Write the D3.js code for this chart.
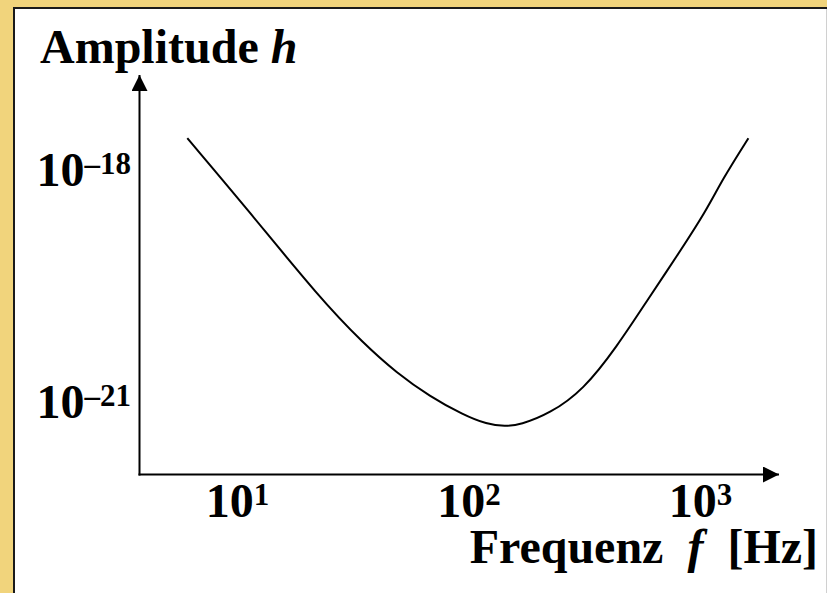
<!DOCTYPE html>
<html>
<head>
<meta charset="utf-8">
<script src="https://cdn.jsdelivr.net/npm/d3@7"></script>
<style>
  body { margin: 0; background: #f1d47c; }
  svg { display: block; }
  text { font-family: "Liberation Serif", "Times New Roman", serif; font-weight: bold; fill: #000; white-space: pre; }
</style>
</head>
<body>
<div class="content"></div>
<script>
// VARIABLES
var w = 827,
    h = 593;

// DATA
var freq = [6.1, 11, 22.9, 35.1, 49, 68, 95, 120, 144, 167, 225, 313, 437, 598, 793, 1069, 1245, 1618];
var amplitude = [2.5e-18, 3.1e-19, 2.1e-20, 5.6e-21, 2.3e-21, 1.15e-21, 6.6e-22, 5.0e-22, 4.7e-22,
                 4.9e-22, 6.9e-22, 1.38e-21, 5.0e-21, 2.1e-20, 7.4e-20, 2.95e-19, 7.2e-19, 2.5e-18];
var xTicks = [10, 100, 1000];
var yTicks = [1e-18, 1e-21];
var xTitle = 'Frequenz  ', xTitleVar = 'f', xTitleUnit = '  [Hz]';
var yTitle = 'Amplitude ', yTitleVar = 'h';

var data = freq.map(function(f, i) { return {f: f, a: amplitude[i]}; });

// PREPARE SVG
var svg = d3.select('.content').append('svg')
    .attr('width', w)
    .attr('height', h);

// frame
svg.append('rect')
    .attr('x', 14).attr('y', 8)
    .attr('width', w).attr('height', h)
    .attr('fill', '#fff')
    .attr('stroke', '#1a1a1a')
    .attr('stroke-width', 2);
svg.append('line')
    .attr('x1', 826.5).attr('x2', 826.5)
    .attr('y1', 9).attr('y2', h)
    .attr('stroke', '#d0d0d0');

// SCALES
var x = d3.scaleLog().domain([10, 1000]).range([237, 700]);
var y = d3.scaleLog().domain([1e-21, 1e-18]).range([401, 169]);

var ox = 139.5, oy = 474.5;

// arrows
var defs = svg.append('defs');
defs.append('marker')
    .attr('id', 'arrow')
    .attr('viewBox', '0 0 16 16')
    .attr('refX', 16).attr('refY', 8)
    .attr('markerWidth', 16).attr('markerHeight', 16)
    .attr('markerUnits', 'userSpaceOnUse')
    .attr('orient', 'auto')
    .append('path')
    .attr('d', 'M0,0L16,8L0,16Z')
    .attr('fill', '#000');

svg.append('line')
    .attr('x1', ox).attr('y1', oy + 1)
    .attr('x2', ox).attr('y2', 75)
    .attr('stroke', '#000').attr('stroke-width', 2)
    .attr('marker-end', 'url(#arrow)');
svg.append('line')
    .attr('x1', ox - 1).attr('y1', oy)
    .attr('x2', 779).attr('y2', oy)
    .attr('stroke', '#000').attr('stroke-width', 2)
    .attr('marker-end', 'url(#arrow)');

// AXES (labels only)
function powLabel(sel, d) {
    var e = Math.round(Math.log10(d));
    var t = d3.select(sel).text(null);
    t.append('tspan').text('10');
    t.append('tspan')
        .attr('dy', -12)
        .style('font-size', '31px')
        .text(e < 0 ? '\u2013' + (-e) : String(e));
}

var xAxis = svg.append('g')
    .attr('transform', 'translate(0,' + oy + ')')
    .call(d3.axisBottom(x).tickValues(xTicks).tickSize(0).tickPadding(0).tickFormat(''));
xAxis.select('.domain').remove();
xAxis.selectAll('.tick text')
    .attr('y', 42).attr('dy', null)
    .style('font-size', '48px')
    .attr('text-anchor', 'middle')
    .each(function(d) { powLabel(this, d); });

var yAxis = svg.append('g')
    .attr('transform', 'translate(131,0)')
    .call(d3.axisLeft(y).tickValues(yTicks).tickSize(0).tickPadding(0).tickFormat(''));
yAxis.select('.domain').remove();
yAxis.selectAll('.tick text')
    .attr('x', 0).attr('dy', 16)
    .style('font-size', '48px')
    .attr('text-anchor', 'end')
    .each(function(d) { powLabel(this, d); });

svg.selectAll('.tick text').style('font-family', '"Liberation Serif", "Times New Roman", serif').attr('fill', '#000');

// CURVE
var line = d3.line()
    .x(function(d) { return x(d.f); })
    .y(function(d) { return y(d.a); })
    .curve(d3.curveBasis);

svg.append('path')
    .datum(data)
    .attr('d', line)
    .attr('fill', 'none')
    .attr('stroke', '#000')
    .attr('stroke-width', 2);

// TITLES
var yt = svg.append('text')
    .attr('x', 40).attr('y', 63)
    .style('font-size', '48px');
yt.append('tspan').text(yTitle);
yt.append('tspan').style('font-style', 'italic').text(yTitleVar);

var xt = svg.append('text')
    .attr('x', 818).attr('y', 563)
    .attr('text-anchor', 'end')
    .style('font-size', '48px');
xt.append('tspan').text(xTitle);
xt.append('tspan').style('font-style', 'italic').text(xTitleVar);
xt.append('tspan').text(xTitleUnit);
</script>
</body>
</html>
